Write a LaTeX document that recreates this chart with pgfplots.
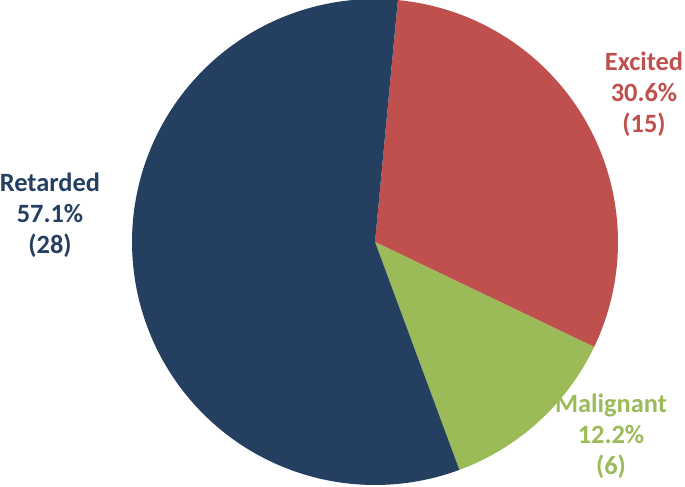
\documentclass[border=0pt]{standalone}
\usepackage{fontspec}
\setmainfont{Carlito}
\usepackage{pgfplots}
\pgfplotsset{compat=1.18}
\definecolor{retblue}{RGB}{36,63,96}
\definecolor{excred}{RGB}{192,80,77}
\definecolor{malgreen}{RGB}{155,187,89}

% counts per group
\def\nExc{15}
\def\nMal{6}
\def\nRet{28}

\begin{document}
\begin{tikzpicture}
\pgfmathsetmacro{\tot}{\nExc+\nMal+\nRet}
\pgfmathsetmacro{\aA}{84.6}
\pgfmathsetmacro{\aB}{\aA-360*\nExc/\tot}
\pgfmathsetmacro{\aC}{\aB-360*\nMal/\tot}
\pgfmathsetmacro{\aD}{\aC-360*\nRet/\tot}
\begin{axis}[
  at={(0,0)}, anchor=south west,
  width=685bp, height=487bp, scale only axis,
  xmin=0, xmax=685, ymin=0, ymax=487,
  hide axis, clip=false,
]
\addplot[fill=excred, draw=none, domain=\aB:\aA, samples=90, variable=\t]
  ({375+243*cos(t)},{245+243*sin(t)}) -- (axis cs:375,245) -- cycle;
\addplot[fill=malgreen, draw=none, domain=\aC:\aB, samples=40, variable=\t]
  ({375+243*cos(t)},{245+243*sin(t)}) -- (axis cs:375,245) -- cycle;
\addplot[fill=retblue, draw=none, domain=\aD:\aC, samples=160, variable=\t]
  ({375+243*cos(t)},{245+243*sin(t)}) -- (axis cs:375,245) -- cycle;

\node[font=\fontsize{26.5}{31}\selectfont\bfseries, text=retblue, align=center]
  at (axis cs:50,272) {Retarded\\57.1\%\\(28)};
\node[font=\fontsize{26.5}{31}\selectfont\bfseries, text=excred, align=center]
  at (axis cs:644,393) {Excited\\30.6\%\\(15)};
\node[font=\fontsize{26.5}{31}\selectfont\bfseries, text=malgreen, align=center]
  at (axis cs:611,51) {Malignant\\12.2\%\\(6)};
\end{axis}
\pgfresetboundingbox
\path[use as bounding box] (0,0) rectangle (685bp,487bp);
\end{tikzpicture}
\end{document}
